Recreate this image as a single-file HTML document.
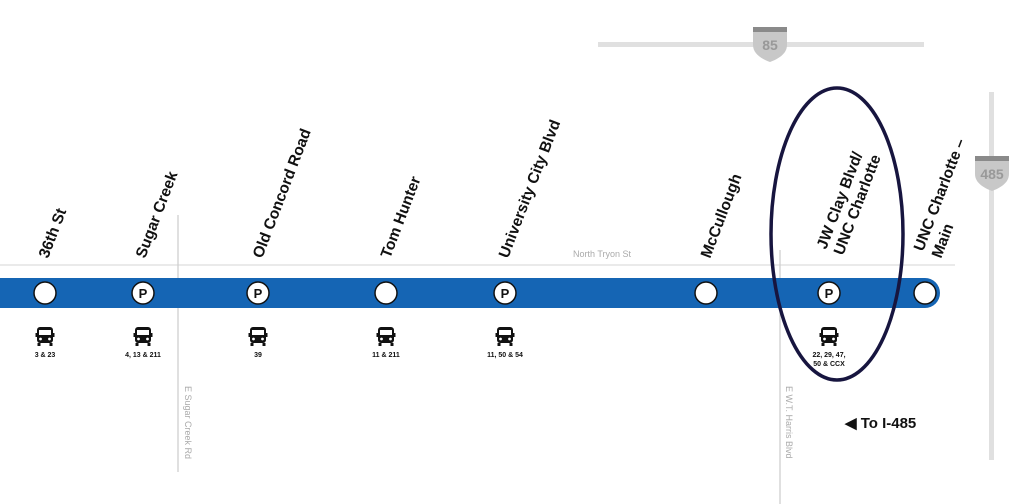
<!DOCTYPE html>
<html><head><meta charset="utf-8"><style>
html,body{margin:0;padding:0;background:#fff;}
svg{display:block;}
.lbl{font-family:"Liberation Sans",sans-serif;font-weight:bold;font-size:15.5px;fill:#111;}
.rt{font-family:"Liberation Sans",sans-serif;font-weight:bold;font-size:7px;fill:#111;text-anchor:middle;}
.st{font-family:"Liberation Sans",sans-serif;font-size:9px;fill:#aaa;}
.p{font-family:"Liberation Sans",sans-serif;font-weight:bold;font-size:13px;fill:#111;text-anchor:middle;}
</style></head><body>
<svg width="1019" height="504" viewBox="0 0 1019 504" xmlns="http://www.w3.org/2000/svg">
<defs>
<g id="bus">
<rect x="-8" y="-11" width="16" height="16" rx="3" fill="#111"/>
<rect x="-6" y="-8" width="12" height="5" fill="#fff"/>
<rect x="-9.5" y="-5" width="1.5" height="4" fill="#111"/>
<rect x="8" y="-5" width="1.5" height="4" fill="#111"/>
<circle cx="-4.5" cy="1" r="1.4" fill="#fff"/><circle cx="4.5" cy="1" r="1.4" fill="#fff"/>
<rect x="-7.5" y="5" width="3" height="3" fill="#111"/><rect x="4.5" y="5" width="3" height="3" fill="#111"/>
</g>
<g id="shield">
<path d="M-17,-16 H17 V2 C17,11 8,16 0,19 C-8,16 -17,11 -17,2 Z" fill="#c8c8c8"/>
<path d="M-17,-16 H17 V-11 H-17 Z" fill="#8a8a8a"/>
</g>
</defs>
<rect x="598" y="42" width="326" height="5" fill="#e0e0e0"/>
<g transform="translate(770,43)"><use href="#shield"/><text x="0" y="7" text-anchor="middle" font-family="Liberation Sans" font-weight="bold" font-size="14" fill="#999">85</text></g>
<rect x="989" y="92" width="5" height="368" fill="#e0e0e0"/>
<g transform="translate(992,172)"><use href="#shield"/><text x="0" y="7" text-anchor="middle" font-family="Liberation Sans" font-weight="bold" font-size="14" fill="#999">485</text></g>
<line x1="0" y1="265" x2="955" y2="265" stroke="#ddd" stroke-width="1.2"/>
<text class="st" x="573" y="257">North Tryon St</text>
<line x1="178" y1="215" x2="178" y2="472" stroke="#ccc" stroke-width="1.2"/>
<text class="st" transform="translate(185,386) rotate(90)">E Sugar Creek Rd</text>
<line x1="780" y1="250" x2="780" y2="504" stroke="#ccc" stroke-width="1.2"/>
<text class="st" transform="translate(786,386) rotate(90)">E W.T. Harris Blvd</text>
<path d="M0,278 H925 A15,15 0 0 1 925,308 H0 Z" fill="#1565b4"/>
<g fill="#fff" stroke="#111" stroke-width="1.5">
<circle cx="45" cy="293" r="11"/><circle cx="143" cy="293" r="11"/><circle cx="258" cy="293" r="11"/>
<circle cx="386" cy="293" r="11"/><circle cx="505" cy="293" r="11"/><circle cx="706" cy="293" r="11"/>
<circle cx="829" cy="293" r="11"/><circle cx="925" cy="293" r="11"/>
</g>
<text class="p" x="143" y="298">P</text><text class="p" x="258" y="298">P</text>
<text class="p" x="505" y="298">P</text><text class="p" x="829" y="298">P</text>
<text class="lbl" transform="translate(48,259) rotate(-69)">36th St</text>
<text class="lbl" transform="translate(145,259) rotate(-69)">Sugar Creek</text>
<text class="lbl" transform="translate(262,259) rotate(-69)">Old Concord Road</text>
<text class="lbl" transform="translate(390,259) rotate(-69)">Tom Hunter</text>
<text class="lbl" transform="translate(508,259) rotate(-69)">University City Blvd</text>
<text class="lbl" transform="translate(710,259) rotate(-69)">McCullough</text>
<text class="lbl" transform="translate(826,250) rotate(-69)">JW Clay Blvd/</text>
<text class="lbl" transform="translate(843,256) rotate(-69)">UNC Charlotte</text>
<text class="lbl" transform="translate(923,252) rotate(-69)">UNC Charlotte –</text>
<text class="lbl" transform="translate(941,259) rotate(-69)">Main</text>
<use href="#bus" x="45" y="338"/><text class="rt" x="45" y="357">3 &amp; 23</text>
<use href="#bus" x="143" y="338"/><text class="rt" x="143" y="357">4, 13 &amp; 211</text>
<use href="#bus" x="258" y="338"/><text class="rt" x="258" y="357">39</text>
<use href="#bus" x="386" y="338"/><text class="rt" x="386" y="357">11 &amp; 211</text>
<use href="#bus" x="505" y="338"/><text class="rt" x="505" y="357">11, 50 &amp; 54</text>
<use href="#bus" x="829" y="338"/><text class="rt" x="829" y="357">22, 29, 47,</text><text class="rt" x="829" y="366">50 &amp; CCX</text>
<ellipse cx="837" cy="234" rx="66" ry="146" fill="none" stroke="#17153f" stroke-width="3.5"/>
<text x="845" y="428" font-family="Liberation Sans" font-weight="bold" font-size="15" fill="#111">◀ To I-485</text>
</svg>
</body></html>
